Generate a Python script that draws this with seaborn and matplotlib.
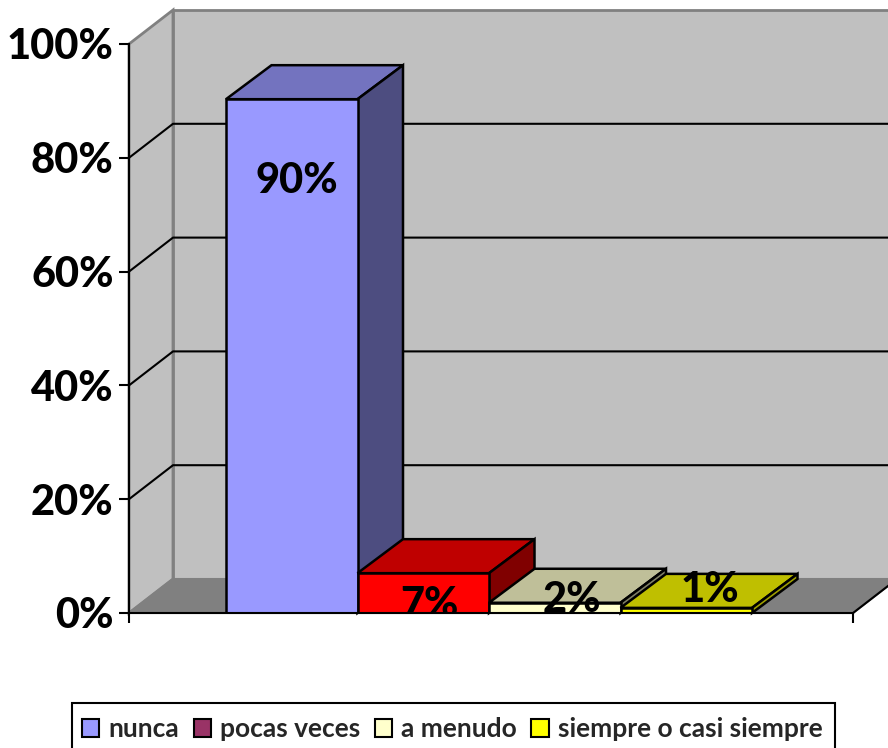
import matplotlib
matplotlib.use("Agg")
import matplotlib.pyplot as plt
from matplotlib.patches import Patch, Polygon, Rectangle
import pandas as pd
import seaborn as sns

categories = ["nunca", "pocas veces", "a menudo", "siempre o casi siempre"]
values = [90.3, 7.0, 1.8, 0.9]
value_labels = ["90%", "7%", "2%", "1%"]
y_ticks = [0, 20, 40, 60, 80, 100]
y_tick_labels = ["0%", "20%", "40%", "60%", "80%", "100%"]

front_colors = ["#9999FF", "#FF0000", "#FFFFCC", "#FFFF00"]
top_colors = ["#7373BF", "#BF0000", "#BFBF99", "#BFBF00"]
side_colors = ["#4D4D80", "#800000", "#808066", "#A0A000"]
legend_colors = ["#9999FF", "#993366", "#FFFFCC", "#FFFF00"]

W, H = 888, 748
LEFT, RIGHT, TOP, BOTTOM = 129, 853, 44, 613
BAR_PX = 131.5
UNIT_Y = (BOTTOM - TOP) / 100
DX = 44 / BAR_PX
DY = 34 / UNIT_Y
BAR_DX = 45.5 / BAR_PX
LABEL_SHIFT = [(0.04, 75.9), (0.05, 1.4), (0.13, 2.2), (0.18, 4.0)]


def draw_walls(ax, x0, x1):
    wall = "#C0C0C0"
    edge = "#808080"
    ax.add_patch(Polygon([(x0, 0), (x0 + DX, DY), (x0 + DX, 100 + DY), (x0, 100)],
                         fc=wall, ec=edge, lw=2, clip_on=False, zorder=0.1))
    ax.add_patch(Polygon([(x0 + DX, DY), (x1 + DX, DY), (x1 + DX, 100 + DY), (x0 + DX, 100 + DY)],
                         fc=wall, ec=edge, lw=2, clip_on=False, zorder=0.2))
    ax.add_patch(Polygon([(x0, 0), (x1, 0), (x1 + DX, DY), (x0 + DX, DY)],
                         fc="#808080", ec=edge, lw=1.5, clip_on=False, zorder=0.3))
    ax.plot([x1, x1 + DX], [0, DY], color="black", lw=1.5, clip_on=False, zorder=0.4)
    for tick in y_ticks[1:-1]:
        ax.plot([x0, x0 + DX, x1 + DX], [tick, tick + DY, tick + DY],
                color="black", lw=1.5, clip_on=False, zorder=0.4)


def draw_depth(ax, bars):
    # each bar gets its top and side faces, left to right so later ones overlap
    for i, bar in enumerate(bars):
        x, w, h = bar.get_x(), bar.get_width(), bar.get_height()
        z = 2 + i
        ax.add_patch(Polygon([(x, h), (x + w, h), (x + w + BAR_DX, h + DY), (x + BAR_DX, h + DY)],
                             fc=top_colors[i], ec="black", lw=1.8, clip_on=False, zorder=z))
        ax.add_patch(Polygon([(x + w, 0), (x + w + BAR_DX, DY), (x + w + BAR_DX, h + DY), (x + w, h)],
                             fc=side_colors[i], ec="black", lw=1.8, clip_on=False, zorder=z))
        bar.set_zorder(z + 0.1)


def main():
    sns.set_theme(style="white")
    plt.rcParams["font.family"] = ["Lato", "DejaVu Sans"]

    fig = plt.figure(figsize=(W / 100, H / 100), dpi=100, facecolor="white")
    ax = fig.add_axes([LEFT / W, 1 - BOTTOM / H, (RIGHT - LEFT) / W, (BOTTOM - TOP) / H])
    ax.patch.set_visible(False)

    df = pd.DataFrame({"respuesta": categories, "pct": values})
    sns.barplot(data=df, x="respuesta", y="pct", hue="respuesta", order=categories,
                hue_order=categories, palette=front_colors, dodge=False, width=1,
                saturation=1, legend=False, edgecolor="black", linewidth=1.8, ax=ax)

    x0 = -0.5 - 97 / BAR_PX
    x1 = x0 + (RIGHT - LEFT) / BAR_PX
    ax.set_xlim(x0, x1)
    ax.set_ylim(0, 100)

    draw_walls(ax, x0, x1)
    draw_depth(ax, list(ax.patches)[:len(categories)])

    for i, label in enumerate(value_labels):
        shift_x, y = LABEL_SHIFT[i]
        ax.text(i + shift_x, y, label, ha="center", va="center", fontsize=30,
                fontweight="black", color="black", zorder=10, clip_on=True)

    ax.set_xlabel("")
    ax.set_ylabel("")
    ax.set_xticks([x0, x1], labels=["", ""])
    ax.set_yticks(y_ticks, labels=y_tick_labels)
    ax.tick_params(axis="y", length=7.5, width=1.5, pad=3.5, color="black", left=True,
                   labelsize=30, labelcolor="black")
    ax.tick_params(axis="x", length=7.5, width=1.5, color="black", bottom=True)
    for label in ax.get_yticklabels():
        label.set_fontweight("black")
    sns.despine(ax=ax)
    for side in ["left", "bottom"]:
        ax.spines[side].set_color("black")
        ax.spines[side].set_linewidth(1.5)
        ax.spines[side].set_zorder(9)

    # legend box runs off the bottom of the picture, as in the source
    fig.add_artist(Rectangle((72 / W, -20 / H), (835 - 72) / W, (H - 703 + 20) / H,
                             transform=fig.transFigure, fc="white", ec="black", lw=1.5))
    handles = [Patch(fc=c, ec="black", lw=1.5) for c in legend_colors]
    fig.legend(handles, categories, ncol=4, loc="center left",
               bbox_to_anchor=(82 / W, 1 - 729 / H), borderaxespad=0, frameon=False,
               prop={"size": 19, "weight": "bold"}, handlelength=0.65, handleheight=0.65,
               handletextpad=0.35, columnspacing=0.55, borderpad=0)

    fig.savefig("out.png", dpi=100)
    plt.close(fig)


if __name__ == "__main__":
    main()
